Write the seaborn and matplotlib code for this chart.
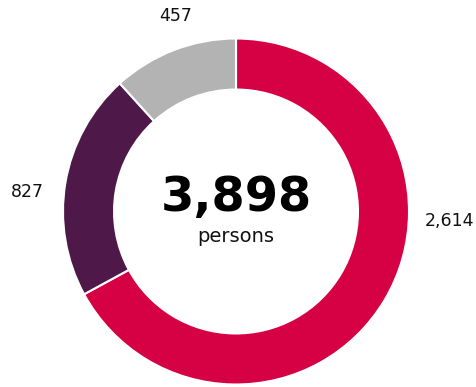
import matplotlib
matplotlib.use("Agg")
import matplotlib.pyplot as plt
import seaborn as sns

categories = ["Group A", "Group B", "Group C"]
values = [2614, 827, 457]
value_labels = ["2,614", "827", "457"]
total_label = "3,898"
unit_label = "persons"
colors = ["#D60045", "#4E1848", "#B3B3B3"]

sns.set_theme(style="white")
plt.rcParams["font.family"] = ["DejaVu Sans"]

W, H = 477, 387
fig = plt.figure(figsize=(W / 100, H / 100), dpi=100)
ax = fig.add_axes([0, 0, 1, 1])

cx, cy, R = 236, 211.5, 173.0
wedges, _ = ax.pie(values, colors=colors, startangle=90, counterclock=False,
                   radius=1.0, wedgeprops=dict(width=0.295, edgecolor="white", linewidth=1.5))

ax.set_xlim(-cx / R, (W - cx) / R)
ax.set_ylim(-(H - cy) / R, cy / R)
ax.set_aspect("equal")
ax.axis("off")

label_pos = [((474 - cx) / R, -0.055, "right"), (-1.208, 0.113, "center"), (-0.347, 1.130, "center")]
for (x, y, ha), t in zip(label_pos, value_labels):
    ax.text(x, y, t, ha=ha, va="center", fontsize=12.5, color="#111111")

ax.text(0, (cy - 197) / R, total_label, ha="center", va="center",
        fontsize=34.5, fontweight="heavy", color="black")
ax.text(0, (cy - 237) / R, unit_label, ha="center", va="center",
        fontsize=14, color="#111111")

fig.savefig("out.png", dpi=100)
